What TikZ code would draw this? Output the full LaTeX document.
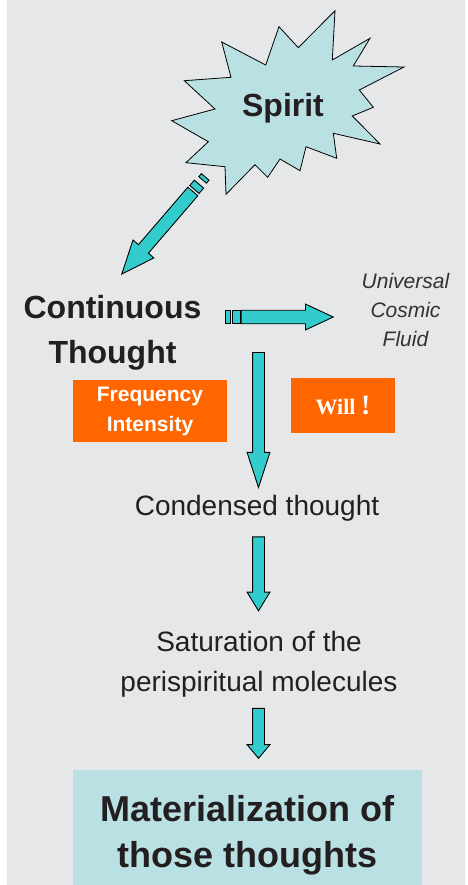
\documentclass[tikz,border=0pt]{standalone}
\usepackage{fontspec}
\setmainfont{Liberation Sans}
\newfontfamily\willfont{Liberation Serif}
\usetikzlibrary{shapes.arrows}

\definecolor{bggray}{HTML}{E6E7E9}
\definecolor{palecyan}{HTML}{B9E0E3}
\definecolor{arrowcyan}{HTML}{33CCCC}
\definecolor{tagorange}{HTML}{FF6600}
\definecolor{inkdark}{HTML}{231F20}
\definecolor{fluidgray}{HTML}{333333}

\tikzset{
  bigarrow/.style={single arrow, draw=black, fill=arrowcyan, line width=0.9pt,
    inner xsep=0pt, single arrow head indent=0pt, anchor=tip},
  tailbit/.style={rectangle, draw=black, fill=arrowcyan, line width=0.9pt, inner sep=0pt},
  tagbox/.style={rectangle, fill=tagorange, text=white, inner sep=0pt, align=center},
  plain/.style={inner sep=0pt, text=inkdark, align=center}
}

\begin{document}
\begin{tikzpicture}[x=1pt, y=-1pt]

    % 1. Nền xám
    \useasboundingbox (0,0) rectangle (467,885);
    \fill[white] (0,0) rectangle (467,885);
    \fill[bggray] (7,0) rectangle (465,885);

    % 2. Ngôi sao "Spirit"
    \draw[fill=palecyan, line width=0.8pt, line join=miter]
      (335,10.7) -- (332.3,60) -- (370,38.3) -- (353.3,66) -- (404,67)
      -- (359.3,90) -- (373.3,107.3) -- (352.3,116) -- (380,144)
      -- (333.3,133.3) -- (336.7,158.3) -- (306,146.7) -- (300,170.7)
      -- (280,159) -- (267.7,177.3) -- (255,164.7) -- (226,194.3)
      -- (225,166.7) -- (186,162.7) -- (208.3,141.7) -- (171.7,120.7)
      -- (215,109) -- (184.3,80.7) -- (231,77.3) -- (221.7,42)
      -- (265.7,65) -- (279,26.7) -- (298.3,47.7) -- cycle;
    \node[plain, anchor=base, font=\bfseries\fontsize{32}{32}\selectfont] (spirit) at (283,117) {Spirit};

    % 3. Mũi tên chéo
    \node[bigarrow, rotate=229.3, minimum height=109, inner ysep=6.1pt,
      single arrow head extend=7.2pt, single arrow tip angle=45] (diagarrow) at (121,275) {};
    \node[tailbit, rotate=229.3, minimum width=7, minimum height=12.2] (diagbitA) at (196.7,186.8) {};
    \node[tailbit, rotate=229.3, minimum width=4, minimum height=10] (diagbitB) at (203.9,178.4) {};

    % 4. Continuous Thought
    \node[plain, anchor=north, font=\bfseries\fontsize{32}{45}\selectfont] (thought) at (112.5,295) {Continuous\\Thought};

    % 5. Mũi tên ngang và Universal Cosmic Fluid
    \node[tailbit, minimum width=5, minimum height=12.6] (fluidbitA) at (228.2,317) {};
    \node[tailbit, minimum width=7.7, minimum height=12.6] (fluidbitB) at (236.2,317) {};
    \node[bigarrow, minimum height=92, inner ysep=6.3pt,
      single arrow head extend=6.2pt, single arrow tip angle=50] (fluidarrow) at (334.3,317) {};
    \node[plain, anchor=north, text=fluidgray, font=\itshape\fontsize{21}{29}\selectfont] (fluid) at (405.5,273) {Universal\\Cosmic\\Fluid};

    % 6. Hai ô màu cam
    \node[tagbox, minimum width=153.4, minimum height=62.4, font=\bfseries\fontsize{21}{30}\selectfont] (freq) at (150,411) {Frequency\\Intensity};
    \node[tagbox, minimum width=104, minimum height=54.4, font=\willfont\bfseries\fontsize{22}{26}\selectfont] (will) at (343,405.5) {Will {\fontsize{28}{30}\selectfont !}};

    % 7. Các mũi tên dọc và các bước
    \node[bigarrow, rotate=-90, minimum height=135, inner ysep=5.5pt,
      single arrow head extend=5.5pt, single arrow tip angle=36] (downA) at (258.5,489) {};
    \node[plain, anchor=base, font=\fontsize{28}{30}\selectfont] (condensed) at (257,515) {Condensed thought};

    \node[bigarrow, rotate=-90, minimum height=74, inner ysep=5.5pt,
      single arrow head extend=5.5pt, single arrow tip angle=63] (downB) at (258.5,611.7) {};
    \node[plain, anchor=north, font=\fontsize{28}{40}\selectfont] (saturation) at (259,631) {Saturation of the\\perispiritual molecules};

    \node[bigarrow, rotate=-90, minimum height=50, inner ysep=5.5pt,
      single arrow head extend=5.5pt, single arrow tip angle=80] (downC) at (258.5,759) {};

    % 8. Kết quả
    \node[plain, anchor=north, fill=palecyan, minimum width=348.4, minimum height=130,
      font=\bfseries\fontsize{36}{46}\selectfont] (mater) at (247.5,770) {Materialization of\\those thoughts};

\end{tikzpicture}
\end{document}
